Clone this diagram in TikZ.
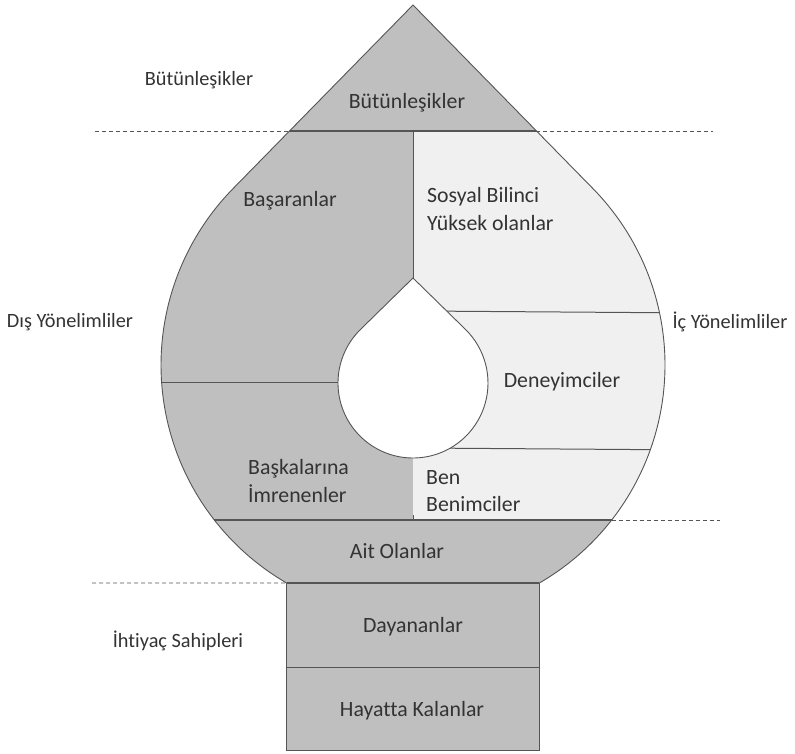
\documentclass[tikz,border=0pt]{standalone}
\usepackage{fontspec}
\setmainfont{Carlito}[Ligatures=NoCommon]
\usetikzlibrary{calc}
\definecolor{dark}{HTML}{BFBFBF}
\definecolor{light}{HTML}{F0F0F0}
\definecolor{edge}{HTML}{555555}
\definecolor{ink}{HTML}{333333}
\begin{document}
\begin{tikzpicture}[x=1pt,y=1pt,
  lbl/.style={font=\fontsize{21.8}{27.5}\selectfont, text=ink, inner sep=0pt},
  side/.style={font=\fontsize{20.3}{25}\selectfont, text=ink, inner sep=0pt},
  sep/.style={draw=edge, line width=1pt},
  rim/.style={draw=edge, line width=0.9pt},
  guide/.style={draw=edge, line width=0.8pt, dash pattern=on 4pt off 3pt}]
\useasboundingbox (0,0) rectangle (795,753);

% outer drop: circle with two tangents meeting at the apex
\coordinate (C) at (413,388);
\coordinate (A) at (413,748);
\coordinate (TL) at ($(C)+(135.6:252)$);
\coordinate (BL) at ($(C)+(239.9:252)$);
\coordinate (BR) at ($(C)+(300.1:252)$);
\coordinate (bl) at (289.6,622);
\coordinate (br) at (536.4,622);
\coordinate (ar) at (611.7,233);

% inner drop: circle with two tangents meeting at its tip
\coordinate (P) at (413,475);
\coordinate (D) at (413,370);
\coordinate (Q1) at ($(D)+(134.4:75)$);

\begin{scope}
  \clip (A) -- (TL) arc[start angle=135.6, end angle=239.9, radius=252]
        -- (BR) arc[start angle=300.1, end angle=404.4, radius=252] -- cycle;
  \fill[dark] (0,0) rectangle (795,753);
  \fill[light] (413,233) rectangle (700,622);
  \draw[sep, line width=1.4pt] (0,622) -- (795,622);
  \draw[sep] (413,622) -- (413,470);
  \draw[sep] (100,370) -- (400,370);
  \draw[sep] (420,442) -- (700,440);
  \draw[sep] (420,305) -- (700,303);
  \draw[sep, line width=1.3pt] (0,233) -- (795,233);
  \draw[sep] (413,233) -- (413,238);
\end{scope}

% white core
\filldraw[fill=white, rim] (P) -- (Q1)
  arc[start angle=134.4, end angle=405.6, radius=75] -- cycle;

% outline of the drop
\draw[rim] (A) -- (TL) arc[start angle=135.6, end angle=239.9, radius=252]
  -- (BR) arc[start angle=300.1, end angle=404.4, radius=252] -- cycle;

% base blocks
\filldraw[fill=dark, rim] (BL) rectangle (539.4,3);
\draw[sep] (286.6,86) -- (539.4,86);
\draw[sep, line width=1.3pt] (BL) -- (BR);

% guide lines
\draw[guide] (95,622) -- (bl);
\draw[guide] (br) -- (713,622);
\draw[guide] (ar) -- (720,233);
\draw[guide] (92,170) -- (BL);

% level names
\node[side] (n1) at (199,673) {Bütünleşikler};
\node[side] (n2) at (70,431) {Dış Yönelimliler};
\node[side] (n3) at (730,431) {İç Yönelimliler};
\node[side] (n4) at (178,112) {İhtiyaç Sahipleri};

% segment names
\node[lbl] (s1) at (407,650) {Bütünleşikler};
\node[lbl] (s2) at (290,552) {Başaranlar};
\node[lbl, anchor=west, align=left] (s3) at (427,544) {Sosyal Bilinci\\Yüksek olanlar};
\node[lbl] (s4) at (562,371) {Deneyimciler};
\node[lbl, anchor=west, align=left] (s5) at (248,272) {Başkalarına\\İmrenenler};
\node[lbl, anchor=west, align=left] (s6) at (426,262) {Ben\\Benimciler};
\node[lbl] (s7) at (397,202) {Ait Olanlar};
\node[lbl] (s8) at (413,126) {Dayananlar};
\node[lbl] (s9) at (412,42) {Hayatta Kalanlar};
\end{tikzpicture}
\end{document}
